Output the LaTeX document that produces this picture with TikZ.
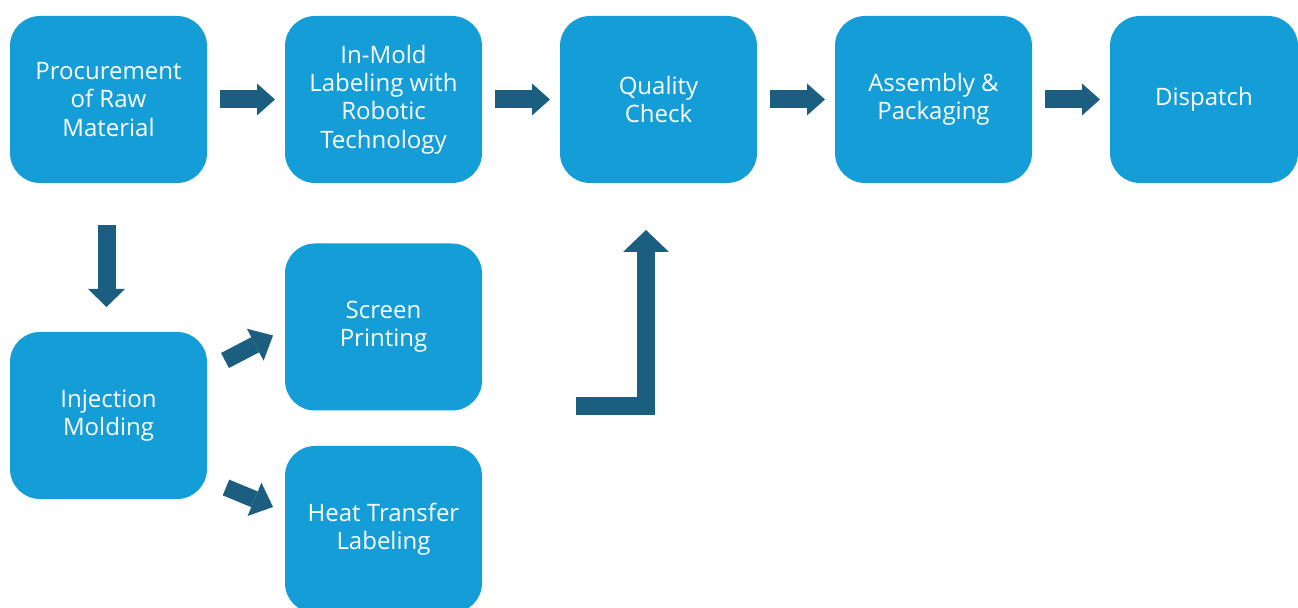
\documentclass[tikz,border=0pt]{standalone}
\usepackage{fontspec}
\setmainfont{Open Sans}
\definecolor{BleuEtape}{HTML}{149DD6}
\definecolor{BleuFleche}{HTML}{1B5E80}
\usetikzlibrary{arrows.meta}
\usetikzlibrary{positioning}
\tikzset{
	stage/.style={rectangle, rounded corners=15pt, fill=BleuEtape, text=white,
		minimum width=98.5pt, minimum height=83.5pt, inner sep=0pt, outer sep=0pt,
		align=center, font=\fontsize{12}{14.2}\selectfont},
	flow/.style={draw=BleuFleche, line width=9pt,
		arrows={-Triangle[width=16pt, length=9pt, line width=0pt]}}
}

\begin{document}
\begin{tikzpicture}[x=0.5pt,y=-0.5pt]
    % one unit = one pixel of the 1298x608 frame
    \useasboundingbox (0,0) rectangle (1298,608);
    \clip (0,0) rectangle (1298,608);

    % Main line of stages
    \node[stage] (proc) at (108.5,99.5) {Procurement\\of Raw\\Material};
    \node[stage] (iml) at (383.5,99.5) {In-Mold\\Labeling with\\Robotic\\Technology};
    \node[stage] (qc) at (658.5,99.5) {Quality\\Check};
    \node[stage] (pack) at (933.5,99.5) {Assembly \&\\Packaging};
    \node[stage, minimum width=94pt] (disp) at (1204,99.5) {Dispatch};

    % Lower branch
    \node[stage] (inj) at (108.5,415.5) {Injection\\Molding};
    \node[stage] (screen) at (383.5,327) {Screen\\Printing};
    \node[stage] (heat) at (383.5,529.5) {Heat Transfer\\Labeling};

    \draw[flow, shorten <=6.5pt, shorten >=5pt] (proc) -- (iml);
    \draw[flow, shorten <=6.5pt, shorten >=5pt] (iml) -- (qc);
    \draw[flow, shorten <=6.5pt, shorten >=5pt] (qc) -- (pack);
    \draw[flow, shorten <=6.5pt, shorten >=5pt] (pack) -- (disp);

    \draw[flow, arrows={-Triangle[width=18.5pt, length=9pt, line width=0pt]},
        shorten <=21pt, shorten >=12.5pt] ([xshift=-1pt]proc.south) -- ([xshift=-1pt]inj.north);
    \draw[flow, line width=8.5pt, arrows={-Triangle[width=18pt, length=10pt, line width=0pt]}]
        ([shift={(18,-55)}]inj.east) -- ([shift={(-12,8.5)}]screen.west);
    \draw[flow, line width=8.5pt, arrows={-Triangle[width=18pt, length=10pt, line width=0pt]}]
        ([shift={(19,72)}]inj.east) -- ([shift={(-12,-22.5)}]heat.west);

    % Return to the quality check
    \coordinate (merge) at (576,406);
    \draw[flow, arrows={-Triangle[width=23pt, length=11pt, line width=0pt]}]
        (merge) -| ([shift={(-12.5,47)}]qc.south);
\end{tikzpicture}
\end{document}
